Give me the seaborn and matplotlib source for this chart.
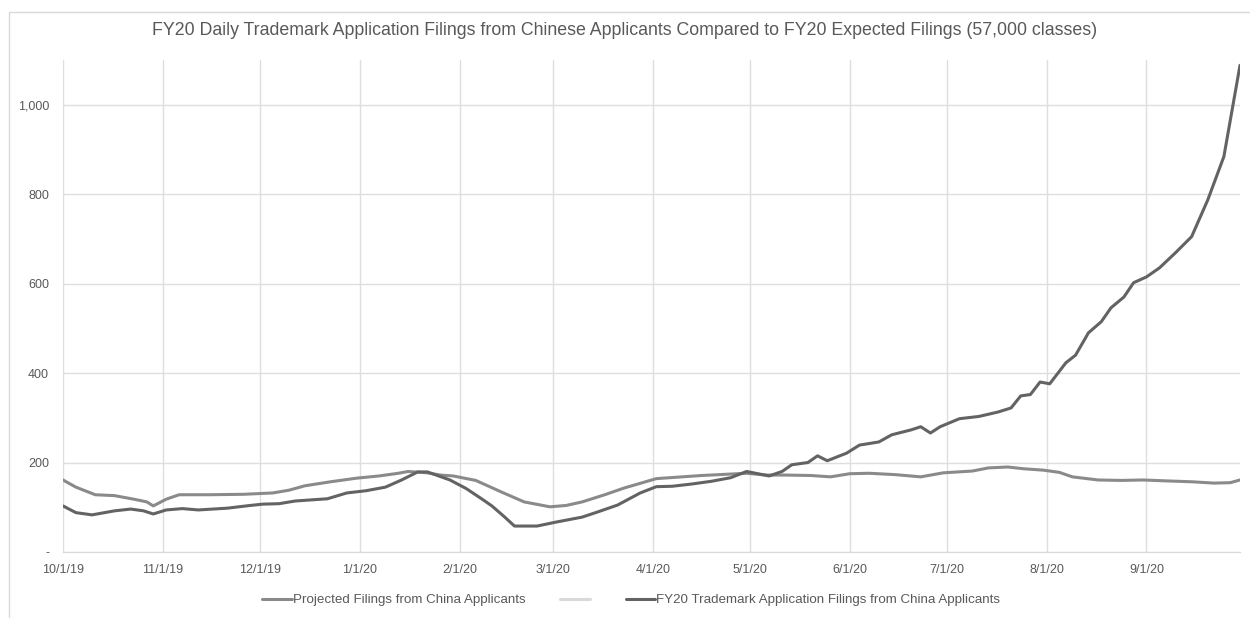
import matplotlib
matplotlib.use('Agg')
import matplotlib.pyplot as plt
import matplotlib.dates as mdates
from matplotlib.lines import Line2D
from matplotlib.patches import Rectangle
from matplotlib.ticker import FuncFormatter
import seaborn as sns
import pandas as pd

# Projected filings (medium gray line)
proj_dates = ['2019-10-01', '2019-10-05', '2019-10-11', '2019-10-17', '2019-10-23', '2019-10-27',
              '2019-10-29', '2019-11-02', '2019-11-06', '2019-11-15', '2019-11-26', '2019-12-05',
              '2019-12-10', '2019-12-15', '2019-12-23', '2019-12-31', '2020-01-07', '2020-01-13',
              '2020-01-16', '2020-01-22', '2020-01-26', '2020-01-30', '2020-02-06', '2020-02-14',
              '2020-02-21', '2020-02-29', '2020-03-05', '2020-03-10', '2020-03-17', '2020-03-23',
              '2020-04-02', '2020-04-08', '2020-04-16', '2020-04-30', '2020-05-06', '2020-05-12',
              '2020-05-20', '2020-05-26', '2020-06-01', '2020-06-07', '2020-06-15', '2020-06-23',
              '2020-06-30', '2020-07-09', '2020-07-14', '2020-07-20', '2020-07-25', '2020-07-31',
              '2020-08-05', '2020-08-09', '2020-08-17', '2020-08-24', '2020-08-31', '2020-09-07',
              '2020-09-15', '2020-09-22', '2020-09-27', '2020-09-30']
proj_values = [161, 145, 128, 126, 118, 112,
               103, 118, 128, 128, 129, 132,
               138, 148, 157, 165, 170, 176,
               180, 177, 172, 170, 160, 134,
               112, 101, 104, 112, 128, 143,
               164, 167, 171, 176, 172, 172,
               171, 168, 175, 176, 173, 168,
               177, 181, 188, 190, 186, 183,
               178, 168, 161, 160, 161, 159,
               157, 154, 155, 161]

# Actual FY20 filings (dark gray line)
actual_dates = ['2019-10-01', '2019-10-05', '2019-10-10', '2019-10-17', '2019-10-22', '2019-10-26',
                '2019-10-29', '2019-11-02', '2019-11-07', '2019-11-12', '2019-11-21', '2019-11-28',
                '2019-12-02', '2019-12-07', '2019-12-12', '2019-12-22', '2019-12-28', '2020-01-03',
                '2020-01-09', '2020-01-14', '2020-01-19', '2020-01-22', '2020-01-29', '2020-02-03',
                '2020-02-08', '2020-02-11', '2020-02-15', '2020-02-18', '2020-02-25', '2020-03-02',
                '2020-03-10', '2020-03-15', '2020-03-21', '2020-03-28', '2020-04-02', '2020-04-07',
                '2020-04-13', '2020-04-19', '2020-04-25', '2020-04-30', '2020-05-07', '2020-05-11',
                '2020-05-14', '2020-05-19', '2020-05-22', '2020-05-25', '2020-05-31', '2020-06-04',
                '2020-06-10', '2020-06-14', '2020-06-20', '2020-06-23', '2020-06-26', '2020-06-29',
                '2020-07-05', '2020-07-11', '2020-07-17', '2020-07-21', '2020-07-24', '2020-07-27',
                '2020-07-30', '2020-08-02', '2020-08-07', '2020-08-10', '2020-08-14', '2020-08-18',
                '2020-08-21', '2020-08-25', '2020-08-28', '2020-09-01', '2020-09-05', '2020-09-10',
                '2020-09-15', '2020-09-20', '2020-09-25', '2020-09-30']
actual_values = [103, 88, 83, 92, 96, 92,
                 85, 94, 97, 94, 98, 104,
                 107, 108, 114, 119, 132, 137,
                 145, 161, 179, 179, 161, 142,
                 118, 103, 78, 58, 58, 67,
                 78, 90, 105, 132, 146, 147,
                 152, 158, 166, 180, 170, 180,
                 195, 200, 215, 204, 221, 239,
                 246, 262, 273, 280, 266, 280,
                 298, 303, 313, 322, 349, 352,
                 380, 376, 423, 440, 490, 515,
                 546, 570, 602, 615, 635, 669,
                 705, 787, 884, 1088]

month_ticks = pd.date_range('2019-10-01', '2020-09-01', freq='MS')
y_ticks = [0, 200, 400, 600, 800, 1000]

title = 'FY20 Daily Trademark Application Filings from Chinese Applicants Compared to FY20 Expected Filings (57,000 classes)'
proj_label = 'Projected Filings from China Applicants'
actual_label = 'FY20 Trademark Application Filings from China Applicants'

sns.set_style('white')
plt.rcParams['font.family'] = ['Liberation Sans', 'DejaVu Sans']

proj = pd.DataFrame({'date': pd.to_datetime(proj_dates), 'value': proj_values})
actual = pd.DataFrame({'date': pd.to_datetime(actual_dates), 'value': actual_values})

fig = plt.figure(figsize=(12.5, 6.18), dpi=100)
ax = fig.add_axes([0.0504, 0.1068, 0.9416, 0.7962])

sns.lineplot(data=proj, x='date', y='value', ax=ax, color='#8a8a8a', linewidth=2.2)
sns.lineplot(data=actual, x='date', y='value', ax=ax, color='#636363', linewidth=2.2)

ax.set_xlim(pd.Timestamp('2019-10-01'), pd.Timestamp('2020-09-30'))
ax.set_ylim(0, 1100)
ax.set_xticks(month_ticks)
ax.xaxis.set_major_formatter(FuncFormatter(
    lambda v, _: (lambda d: f'{d.month}/{d.day}/{d.strftime("%y")}')(mdates.num2date(v))))
ax.set_yticks(y_ticks)
ax.yaxis.set_major_formatter(FuncFormatter(lambda v, _: '-' if v == 0 else f'{v:,.0f}'))

ax.grid(True, color='#dedede', linewidth=1)
ax.set_axisbelow(True)
for side in ['top', 'right', 'left']:
    ax.spines[side].set_visible(False)
ax.spines['bottom'].set_color('#d9d9d9')
ax.tick_params(axis='both', length=0, colors='#595959', labelsize=9)
ax.tick_params(axis='y', pad=10)
ax.tick_params(axis='x', pad=9)
ax.set_xlabel('')
ax.set_ylabel('')

fig.text(0.5, 0.951, title, ha='center', va='center', fontsize=12.8, color='#595959')

handles = [Line2D([], [], color='#8a8a8a', linewidth=2.2),
           Line2D([], [], color='#d9d9d9', linewidth=2.2),
           Line2D([], [], color='#636363', linewidth=2.2)]
fig.legend(handles, [proj_label, '', actual_label], loc='center', bbox_to_anchor=(0.505, 0.029),
           ncol=3, frameon=False, fontsize=9.6, handlelength=2.2, handletextpad=0.1,
           columnspacing=2.6, labelcolor='#595959')

# thin outer chart border like the original
fig.patches.append(Rectangle((0.007, -0.01), 1.0, 0.99, transform=fig.transFigure,
                             fill=False, edgecolor='#d9d9d9', linewidth=1))

fig.savefig('out.png', dpi=100, facecolor='white')
